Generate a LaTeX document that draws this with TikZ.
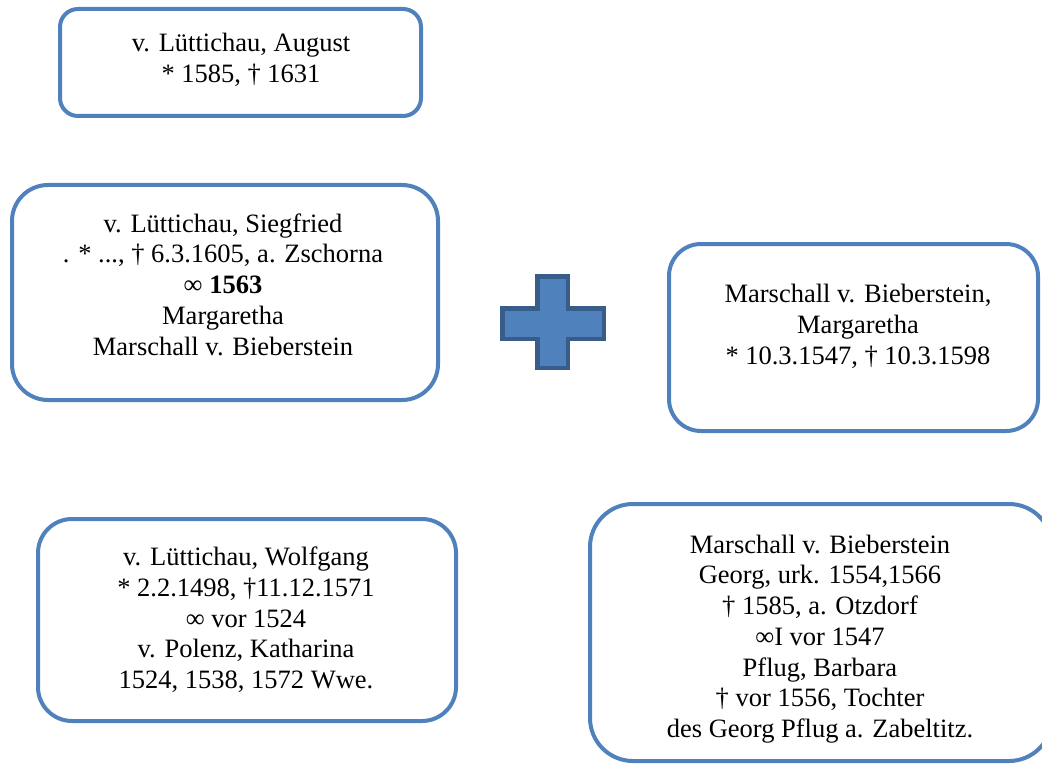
\documentclass[tikz,border=0pt]{standalone}
\usepackage{fontspec}
\setmainfont{Liberation Serif}
\definecolor{boxblue}{RGB}{79,129,189}
\definecolor{plusedge}{RGB}{56,93,138}
\tikzset{
  famlbox/.style={rectangle, draw=boxblue, line width=4pt, fill=white,
    inner sep=0pt, outer sep=0pt},
  famltext/.style={align=center, inner sep=0pt,
    font=\fontsize{26.5}{30.7}\selectfont},
}
\begin{document}
\begin{tikzpicture}[x=1pt,y=-1pt]
\useasboundingbox (0,0) rectangle (1042,765);
\clip (0,0) rectangle (1042,765);

% August
\node[famlbox, minimum width=361pt, minimum height=107pt, rounded corners=18pt]
  (augbox) at (240.5,62.5) {};
\node[famltext] (augtext) at (241,60)
  {v. Lüttichau, August\\* 1585, † 1631};

% Siegfried
\node[famlbox, minimum width=426pt, minimum height=215pt, rounded corners=36pt]
  (siegbox) at (225,292.5) {};
\node[famltext] (siegtext) at (223,284.5)
  {v. Lüttichau, Siegfried\\. * ..., † 6.3.1605, a. Zschorna\\∞ \textbf{1563}\\Margaretha\\Marschall v. Bieberstein};

% Margaretha
\node[famlbox, minimum width=369pt, minimum height=187pt, rounded corners=32pt]
  (margbox) at (853.5,337.5) {};
\node[famltext] (margtext) at (858,326.5)
  {Marschall v. Bieberstein,\\Margaretha\\* 10.3.1547, † 10.3.1598};

% Wolfgang
\node[famlbox, minimum width=418pt, minimum height=202pt, rounded corners=34pt]
  (wolfbox) at (247,620) {};
\node[famltext] (wolftext) at (246,620)
  {v. Lüttichau, Wolfgang\\* 2.2.1498, †11.12.1571\\∞ vor 1524\\v. Polenz, Katharina\\1524, 1538, 1572 Wwe.};

% Georg
\node[famlbox, minimum width=462pt, minimum height=257pt, rounded corners=43pt]
  (georgbox) at (821,632.5) {};
\node[famltext] (georgtext) at (820,639)
  {Marschall v. Bieberstein\\Georg, urk. 1554,1566\\† 1585, a. Otzdorf\\∞I vor 1547\\Pflug, Barbara\\† vor 1556, Tochter\\des Georg Pflug a. Zabeltitz.};

% plus sign between the spouses
\draw[fill=boxblue, draw=plusedge, line width=4.5pt, line join=miter]
  (537.25,276.25) -- (567.75,276.25) -- (567.75,308.25) -- (603.75,308.25)
  -- (603.75,338.75) -- (567.75,338.75) -- (567.75,367.75) -- (537.25,367.75)
  -- (537.25,338.75) -- (502.25,338.75) -- (502.25,308.25) -- (537.25,308.25)
  -- cycle;
\end{tikzpicture}
\end{document}
